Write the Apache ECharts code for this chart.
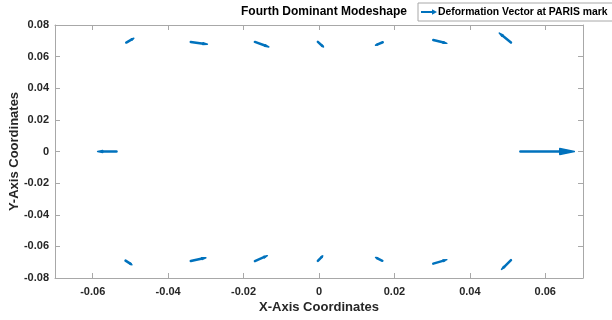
<!DOCTYPE html>
<html>
<head>
<meta charset="utf-8">
<script src="https://cdn.jsdelivr.net/npm/echarts@6/dist/echarts.min.js"></script>
<style>html,body{margin:0;padding:0;background:#fff}#c{width:612px;height:320px}</style>
</head>
<body>
<div id="c"></div>
<script>
// Quiver data: base points (x, y) and deformation vectors (u, v)
const baseX = [-0.0511, -0.0340, -0.0170, -0.0003, 0.0169, 0.0303, 0.0509,
               -0.0513, -0.0340, -0.0170, -0.0003, 0.0168, 0.0303, 0.0509,
               -0.0537, 0.0534];
const baseY = [0.0689, 0.0693, 0.0693, 0.0693, 0.0691, 0.0705, 0.0689,
               -0.0690, -0.0693, -0.0693, -0.0692, -0.0691, -0.0709, -0.0687,
               0, 0];
const dispU = [0.0020, 0.0044, 0.0037, 0.0015, -0.0019, 0.0036, -0.0031,
               0.0017, 0.0040, 0.0033, 0.0013, -0.0018, 0.0036, -0.0025,
               -0.0050, 0.0143];
const dispV = [0.0027, -0.0015, -0.0032, -0.0032, -0.0019, -0.0021, 0.0060,
               -0.0026, 0.0021, 0.0034, 0.0032, 0.0021, 0.0025, -0.0059,
               0, 0];
const xTicks = [-0.06, -0.04, -0.02, 0, 0.02, 0.04, 0.06];
const yTicks = [-0.08, -0.06, -0.04, -0.02, 0, 0.02, 0.04, 0.06, 0.08];
const titleText = 'Fourth Dominant Modeshape';
const seriesName = 'Deformation Vector at PARIS mark';
const xName = 'X-Axis Coordinates';
const yName = 'Y-Axis Coordinates';

const COLOR = '#0072BD';
const FONT = 'Liberation Sans, Arial, sans-serif';
const AXC = '#a8a8a8';
const fmt = v => { const r = +(+v).toFixed(2); return r === 0 ? '0' : String(r); };

const data = baseX.map((x, i) => [x, baseY[i], dispU[i], dispV[i]]);

const chart = echarts.init(document.getElementById('c'));
const axisCommon = {
  axisLine: { show: true, onZero: false, lineStyle: { color: AXC, width: 1 } },
  axisTick: { show: true, inside: true, length: 5, lineStyle: { color: AXC } },
  splitLine: { show: false }
};
chart.setOption({
  animation: false,
  title: {
    text: titleText, left: 319, top: 1, textAlign: 'center',
    textStyle: { fontFamily: FONT, fontWeight: 'bold', fontSize: 12, color: '#000' }
  },
  legend: {
    left: 418, top: 3, orient: 'horizontal',
    data: [{ name: seriesName, icon: 'path://M0,4 L11,4 L11,2.3 L16,5 L11,7.7 L11,6 L0,6 Z' }],
    itemWidth: 16, itemHeight: 7, itemGap: 2,
    padding: [4, 6, 4, 3],
    borderColor: '#a8a8a8', borderWidth: 1, backgroundColor: '#fff',
    textStyle: { fontFamily: FONT, fontWeight: 'bold', fontSize: 10.4, color: '#000', padding: [0, 0, 0, -4] }
  },
  grid: { left: 55, right: 29, top: 25, bottom: 42, show: false, outerBoundsMode: 'none', containLabel: false },
  xAxis: [
    Object.assign({}, axisCommon, {
      type: 'value', min: -0.07, max: 0.07, position: 'bottom',
      name: xName, nameLocation: 'middle', nameGap: 23, nameMoveOverlap: false,
      nameTextStyle: { fontFamily: FONT, fontWeight: 'bold', fontSize: 13, color: '#262626' },
      axisLabel: { customValues: xTicks, formatter: fmt, margin: 8, fontFamily: FONT, fontWeight: 'bold', fontSize: 11, color: '#262626' },
      axisTick: Object.assign({}, axisCommon.axisTick, { customValues: xTicks })
    }),
    Object.assign({}, axisCommon, {
      type: 'value', min: -0.07, max: 0.07, position: 'top',
      axisLabel: { show: false, customValues: xTicks },
      axisTick: Object.assign({}, axisCommon.axisTick, { customValues: xTicks })
    })
  ],
  yAxis: [
    Object.assign({}, axisCommon, {
      type: 'value', min: -0.08, max: 0.08, interval: 0.02, position: 'left',
      name: yName, nameLocation: 'middle', nameGap: 34, nameMoveOverlap: false,
      nameTextStyle: { fontFamily: FONT, fontWeight: 'bold', fontSize: 13, color: '#262626' },
      axisLabel: { customValues: yTicks, formatter: fmt, margin: 6, fontFamily: FONT, fontWeight: 'bold', fontSize: 11, color: '#262626' },
      axisTick: Object.assign({}, axisCommon.axisTick, { customValues: yTicks })
    }),
    Object.assign({}, axisCommon, {
      type: 'value', min: -0.08, max: 0.08, interval: 0.02, position: 'right',
      axisLabel: { show: false },
      axisTick: Object.assign({}, axisCommon.axisTick, { customValues: yTicks })
    })
  ],
  series: [{
    name: seriesName,
    type: 'custom',
    xAxisIndex: 0, yAxisIndex: 0,
    itemStyle: { color: COLOR },
    clip: false,
    data: data,
    renderItem: function (params, api) {
      const x = api.value(0), y = api.value(1), u = api.value(2), v = api.value(3);
      const p0 = api.coord([x, y]);
      const p1 = api.coord([x + u, y + v]);
      const dx = p1[0] - p0[0], dy = p1[1] - p0[1];
      const len = Math.sqrt(dx * dx + dy * dy) || 1;
      const ux = dx / len, uy = dy / len;
      const hl = 0.27 * len, hw = 0.055 * len;
      const bx = p1[0] - ux * hl, by = p1[1] - uy * hl;
      return {
        type: 'group',
        children: [
          { type: 'line', shape: { x1: p0[0], y1: p0[1], x2: bx + ux * 0.5, y2: by + uy * 0.5 },
            style: { stroke: COLOR, lineWidth: 2.5, lineCap: 'round' } },
          { type: 'polygon', shape: { points: [
              [p1[0], p1[1]],
              [bx - uy * hw, by + ux * hw],
              [bx + uy * hw, by - ux * hw]
            ] },
            style: { fill: COLOR, stroke: COLOR, lineWidth: 1.5, lineJoin: 'round' } }
        ]
      };
    }
  }]
});
</script>
</body>
</html>
